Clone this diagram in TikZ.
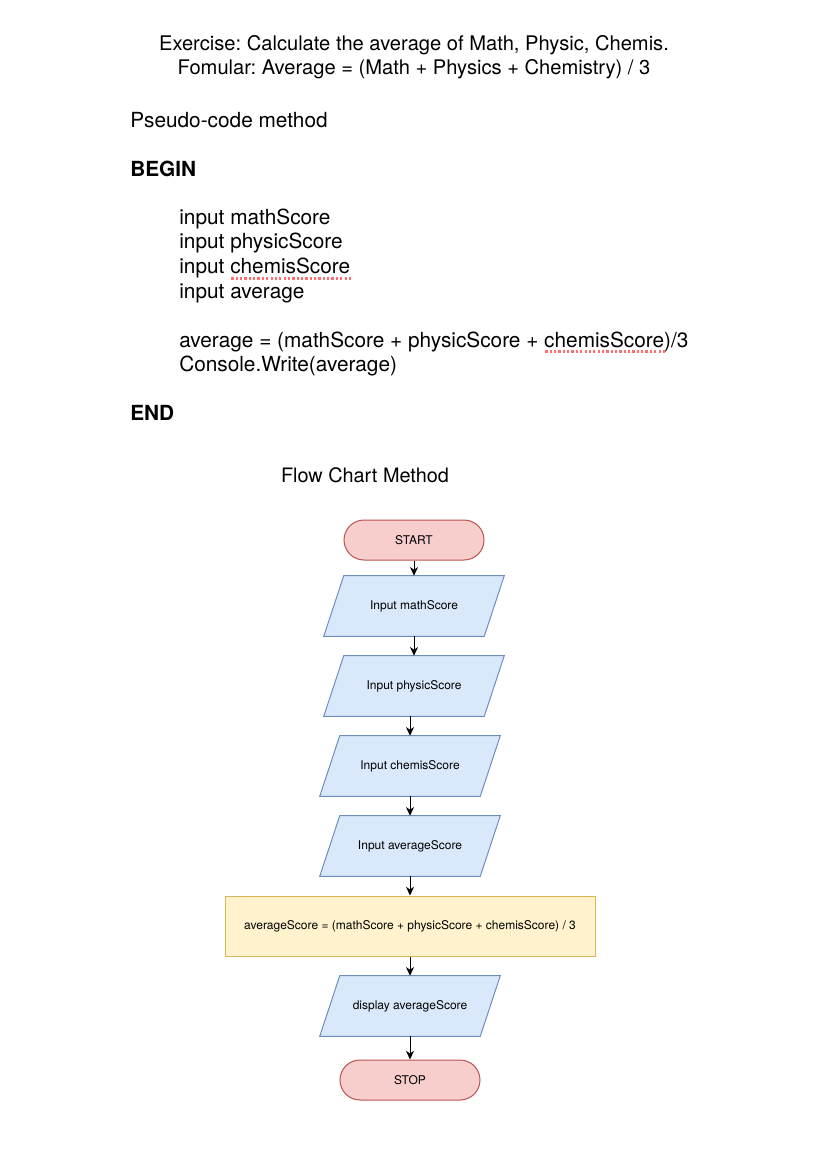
\documentclass[tikz,border=0pt]{standalone}
\usepackage{fontspec}
\setmainfont{TeX Gyre Heros}
\usetikzlibrary{arrows.meta,backgrounds}
\frenchspacing

\definecolor{termfill}{HTML}{F8CECC}
\definecolor{termline}{HTML}{B85450}
\definecolor{iofill}{HTML}{DAE8FC}
\definecolor{ioline}{HTML}{6C8EBF}
\definecolor{procfill}{HTML}{FFF2CC}
\definecolor{procline}{HTML}{D6B656}
\definecolor{spell}{HTML}{FF6F6F}

% dotted red spell-check mark under a word
\newcommand\spellmark[1]{%
  \setbox0\hbox{#1}%
  \rlap{\raisebox{-4.2pt}{\hbox to \dimexpr\wd0+1.5pt\relax{\color{spell}%
    \xleaders\hbox to 3.2pt{\hss\rule{1.7pt}{1.7pt}\hss}\hfill}}}%
  \box0}

% parallelogram outline drawn behind an input/output node
\newcommand\ioshape[1]{%
  \draw[iodraw] ([xshift=15pt]#1.north west) -- (#1.north east)
    -- ([xshift=-15pt]#1.south east) -- (#1.south west) -- cycle;}

\begin{document}
\begin{tikzpicture}[x=0.75pt,y=-0.75pt,
  heading/.style={font=\fontsize{15.1}{18}\selectfont, inner sep=0pt},
  codeline/.style={font=\fontsize{15.6}{18}\selectfont, inner sep=0pt,
    anchor=base west},
  term/.style={draw=termline, fill=termfill, line width=0.75pt,
    rounded corners=15pt, minimum width=105pt, minimum height=30pt,
    inner sep=0pt, font=\fontsize{9}{11}\selectfont},
  io/.style={minimum width=135pt, minimum height=45pt, inner sep=0pt,
    font=\fontsize{9}{11}\selectfont},
  iodraw/.style={draw=ioline, fill=iofill, line width=0.75pt},
  proc/.style={draw=procline, fill=procfill, line width=0.75pt,
    minimum width=277.5pt, minimum height=45pt, inner sep=0pt,
    font=\fontsize{9}{11}\selectfont},
  flow/.style={draw=black, line width=0.75pt,
    -{Stealth[length=6.5pt, width=6pt, inset=2pt]}}]

\path[use as bounding box] (0,0) rectangle (827,1169);

% exercise statement
\node[heading, anchor=base] (title1) at (414,51)
  {Exercise: Calculate the average of Math, Physic, Chemis.};
\node[heading, anchor=base] (title2) at (414,75)
  {Fomular: Average = (Math + Physics + Chemistry) / 3};

% pseudo-code
\node[codeline] (pcode) at (130,128) {Pseudo-code method};
\node[codeline] (kwbegin) at (130,177) {\textbf{BEGIN}};
\node[codeline] (l1) at (179,225) {input mathScore};
\node[codeline] (l2) at (179,249) {input physicScore};
\node[codeline] (l3) at (179,274) {input \spellmark{chemisScore}};
\node[codeline] (l4) at (179,298) {input average};
\node[codeline] (l5) at (179,347)
  {average = (mathScore + physicScore + \spellmark{chemisScore})/3};
\node[codeline] (l6) at (179,371) {Console.Write(average)};
\node[codeline] (kwend) at (130,420) {\textbf{END}};

% flow chart
\node[font=\fontsize{14.9}{18}\selectfont, inner sep=0pt, anchor=base]
  (fctitle) at (365,482) {Flow Chart Method};

\node[term] (start) at (414,540) {START};
\node[io] (math) at (414,606) {Input mathScore};
\node[io] (phys) at (414,686) {Input physicScore};
\node[io] (chem) at (410,766) {Input chemisScore};
\node[io] (avgin) at (410,846) {Input averageScore};
\node[proc] (calc) at (410,926)
  {averageScore = (mathScore + physicScore + chemisScore) / 3};
\node[io] (disp) at (410,1006) {display averageScore};
\node[term] (stop) at (410,1080) {STOP};

\begin{pgfonlayer}{background}
  \fill[white] (0,0) rectangle (827,1169);
  \ioshape{math}
  \ioshape{phys}
  \ioshape{chem}
  \ioshape{avgin}
  \ioshape{disp}
\end{pgfonlayer}

\draw[flow] (start.south) -- (math.north);
\draw[flow] (math.south) -- (phys.north);
\draw[flow] (phys.south -| chem.north) -- (chem.north);
\draw[flow] (chem.south) -- (avgin.north);
\draw[flow] (avgin.south) -- (calc.north);
\draw[flow] (calc.south) -- (disp.north);
\draw[flow] (disp.south) -- (stop.north);
\end{tikzpicture}
\end{document}
